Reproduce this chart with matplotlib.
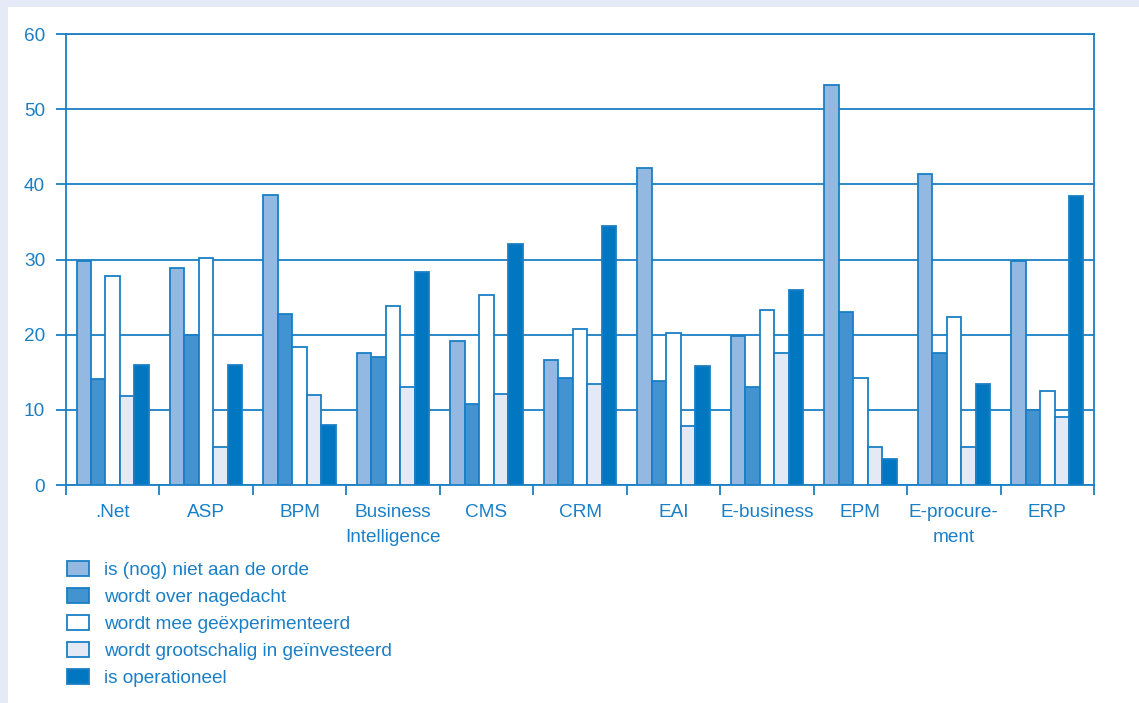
import matplotlib.pyplot as plt
import numpy as np
from matplotlib.patches import Rectangle

categories = ['.Net', 'ASP', 'BPM', 'Business\nIntelligence', 'CMS', 'CRM', 'EAI',
              'E-business', 'EPM', 'E-procure-\nment', 'ERP']
series_names = ['is (nog) niet aan de orde', 'wordt over nagedacht',
                'wordt mee geëxperimenteerd', 'wordt grootschalig in geïnvesteerd',
                'is operationeel']
niet_aan_orde = [29.8, 28.9, 38.6, 17.6, 19.2, 16.6, 42.2, 19.8, 53.2, 41.4, 29.8]
nagedacht = [14.1, 19.9, 22.8, 17.0, 10.8, 14.3, 13.8, 13.1, 23.0, 17.6, 10.0]
geexperimenteerd = [27.8, 30.2, 18.3, 23.8, 25.3, 20.8, 20.2, 23.3, 14.3, 22.4, 12.5]
geinvesteerd = [11.8, 5.0, 12.0, 13.0, 12.1, 13.4, 7.9, 17.6, 5.1, 5.1, 9.1]
operationeel = [16.0, 16.0, 8.0, 28.4, 32.1, 34.4, 15.8, 26.0, 3.4, 13.4, 38.5]

series = [niet_aan_orde, nagedacht, geexperimenteerd, geinvesteerd, operationeel]
colors = ['#93b8e2', '#4393d0', '#ffffff', '#e3eaf6', '#0077c0']
blue = '#1a7fc6'

plt.rcParams['font.family'] = ['Liberation Sans', 'DejaVu Sans']
fs = 13.7

fig = plt.figure(figsize=(11.39, 7.03), dpi=100)
fig.patch.set_facecolor('#e4eaf6')
fig.patches.append(Rectangle((8 / 1139, 0), 1, 1 - 7 / 703, transform=fig.transFigure,
                             facecolor='white', edgecolor='none', zorder=-5))

ax = fig.add_axes([66 / 1139, 1 - 485 / 703, (1094 - 66) / 1139, (485 - 34) / 703])
ax.set_zorder(2)
ax.set_facecolor('white')

x = np.arange(len(categories)) + 0.5
w = 0.155
for i, (vals, c) in enumerate(zip(series, colors)):
    ax.bar(x + (i - 2) * w, vals, w, color=c, edgecolor=blue, linewidth=1.3,
           label=series_names[i], zorder=3)

ax.set_xlim(0, len(categories))
ax.set_ylim(0, 60)
ax.set_yticks(range(0, 61, 10))
ax.yaxis.grid(True, color=blue, linewidth=1.3, zorder=1)
ax.set_axisbelow(True)
ax.set_xticks(np.arange(len(categories) + 1))
ax.set_xticklabels([])
ax.set_xticks(x, minor=True)
ax.set_xticklabels(categories, minor=True, linespacing=1.6)
ax.tick_params(axis='x', which='minor', length=0, pad=14, labelsize=fs, labelcolor=blue)
ax.tick_params(axis='x', which='major', length=7, width=1.3, color=blue)
ax.tick_params(axis='y', length=7, width=1.3, color=blue, labelsize=fs,
               labelcolor=blue, pad=8)
for s in ax.spines.values():
    s.set_color(blue)
    s.set_linewidth(1.3)

handles, labels = ax.get_legend_handles_labels()
leg = fig.legend(handles, labels, loc='upper left', bbox_to_anchor=(50 / 1139, 1 - 544 / 703),
                 frameon=False, fontsize=fs, labelspacing=0.48,
                 handlelength=1.15, handleheight=0.8, handletextpad=0.8)
leg.set_zorder(3)
for t in leg.get_texts():
    t.set_color(blue)

fig.savefig('out.png', dpi=100, facecolor=fig.get_facecolor())
